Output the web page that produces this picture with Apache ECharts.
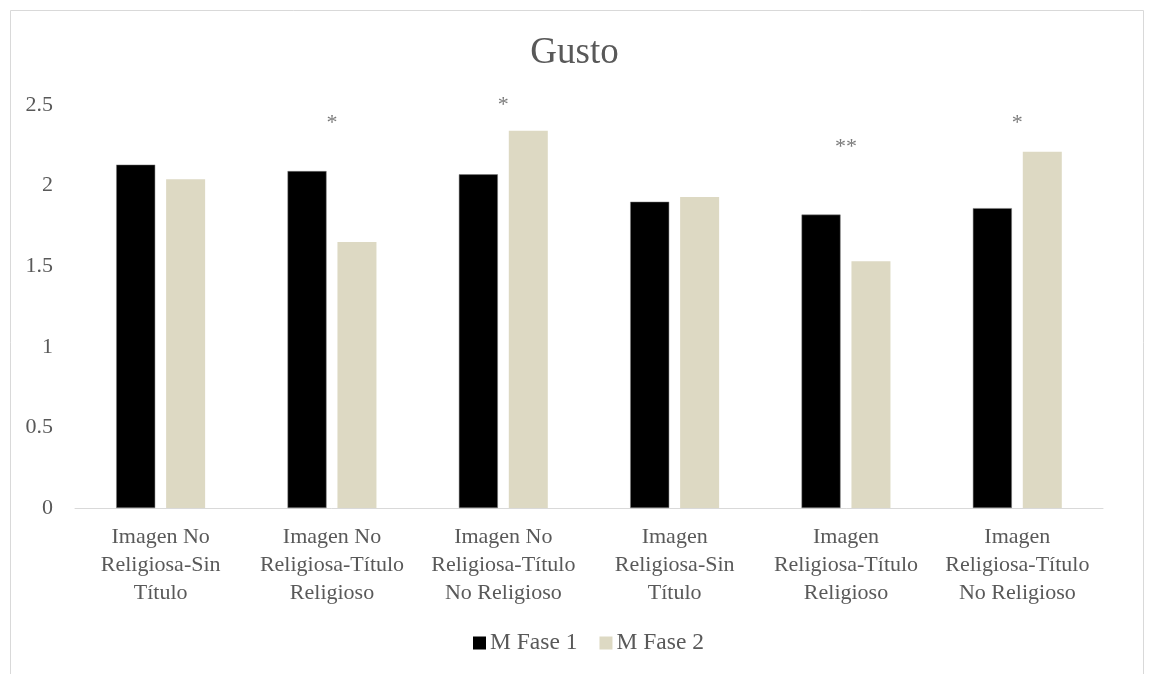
<!DOCTYPE html>
<html>
<head>
<meta charset="utf-8">
<script src="https://cdn.jsdelivr.net/npm/echarts@6/dist/echarts.min.js"></script>
<style>html,body{margin:0;padding:0;background:#fff}#c{width:1149px;height:674px}</style>
</head>
<body>
<div id="c"></div>
<script>
const categories = [
  "Imagen No\nReligiosa-Sin\nTítulo",
  "Imagen No\nReligiosa-Título\nReligioso",
  "Imagen No\nReligiosa-Título\nNo Religioso",
  "Imagen\nReligiosa-Sin\nTítulo",
  "Imagen\nReligiosa-Título\nReligioso",
  "Imagen\nReligiosa-Título\nNo Religioso"
];
const fase1 = [2.13, 2.09, 2.07, 1.90, 1.82, 1.86];
const fase2 = [2.04, 1.65, 2.34, 1.93, 1.53, 2.21];
const sigMarks = ["", "*", "*", "", "**", "*"];
const sigHeights = [null, 2.39, 2.50, null, 2.24, 2.39];
const yTicks = [0, 0.5, 1, 1.5, 2, 2.5];

const FONT = '"Liberation Serif", "Times New Roman", serif';
const TXT = '#595959';

const sigData = categories.map((c, i) => sigMarks[i] ? {value: [c, sigHeights[i]], mark: sigMarks[i]} : null).filter(Boolean);

const chart = echarts.init(document.getElementById('c'));
chart.setOption({
  animation: false,
  backgroundColor: '#fff',
  graphic: [{
    type: 'rect', left: 8, top: 8, silent: true,
    shape: {width: 1133, height: 700},
    style: {fill: 'none', stroke: '#d9d9d9', lineWidth: 1}
  }],
  title: {
    text: 'Gusto', left: 'center', top: 30,
    textStyle: {fontFamily: FONT, fontSize: 37, fontWeight: 'normal', color: TXT}
  },
  legend: {
    data: ['M Fase 1', 'M Fase 2'],
    bottom: 14, left: 468,
    icon: 'rect', itemWidth: 13, itemHeight: 13, itemGap: 22,
    itemStyle: {borderWidth: 0},
    textStyle: {fontFamily: FONT, fontSize: 23.5, color: TXT, padding: [0, 0, 0, -1]}
  },
  grid: {left: 75, right: 46, top: 105, bottom: 166, containLabel: false},
  xAxis: {
    type: 'category', data: categories,
    axisLine: {lineStyle: {color: '#d9d9d9', width: 1}},
    axisTick: {show: false},
    axisLabel: {fontFamily: FONT, fontSize: 22, color: TXT, lineHeight: 28, margin: 15, interval: 0}
  },
  yAxis: {
    type: 'value', min: 0, max: 2.5, interval: 0.5,
    splitLine: {show: false},
    axisLine: {show: false}, axisTick: {show: false},
    axisLabel: {fontFamily: FONT, fontSize: 22, color: TXT, margin: 22,
      formatter: v => yTicks.includes(v) ? String(v) : ''}
  },
  series: [
    {name: 'M Fase 1', type: 'bar', data: fase1, barWidth: 39, barGap: '28%',
     itemStyle: {color: '#000000', borderColor: '#7f7f7f', borderWidth: 0.5}},
    {name: 'M Fase 2', type: 'bar', data: fase2, barWidth: 39,
     itemStyle: {color: '#DDD9C3'}},
    {name: 'sig', type: 'scatter', data: sigData, symbolSize: 0, clip: false, silent: true,
     label: {show: true, position: 'inside', formatter: p => p.data.mark,
       fontFamily: FONT, fontSize: 22, color: TXT}}
  ]
});
</script>
</body>
</html>
